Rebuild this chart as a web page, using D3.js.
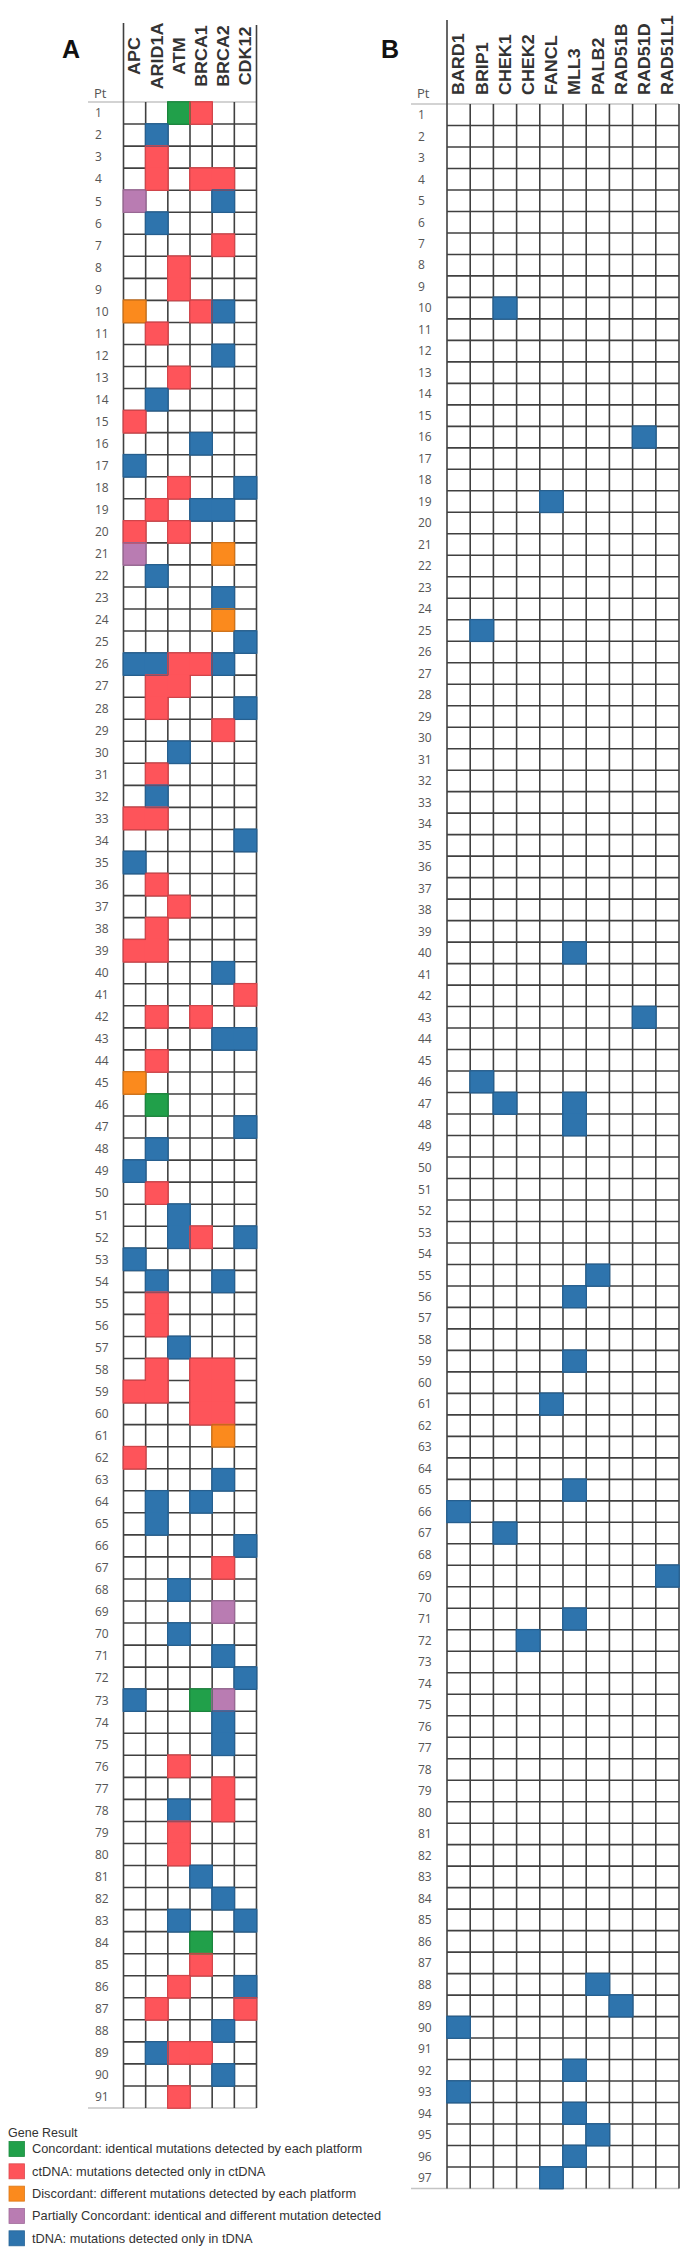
<!DOCTYPE html>
<html>
<head>
<meta charset="utf-8">
<script src="https://cdn.jsdelivr.net/npm/d3@7"></script>
<style>
  html, body { margin: 0; padding: 0; background: #fff; }
  svg { display: block; }
  .hdr { font-family: 'Liberation Sans', Arial, sans-serif; font-weight: bold; }
  .num { font-family: 'Open Sans', sans-serif; }
  .leg { font-family: 'Liberation Sans', Arial, sans-serif; }
</style>
</head>
<body>
<svg id="chart" width="694" height="2259"></svg>
<script>
// ---------------- DATA ----------------
const genesA = ["APC", "ARID1A", "ATM", "BRCA1", "BRCA2", "CDK12"];
const genesB = ["BARD1", "BRIP1", "CHEK1", "CHEK2", "FANCL", "MLL3", "PALB2", "RAD51B", "RAD51D", "RAD51L1"];
const patientsA = d3.range(1, 92);   // Pt 1..91
const patientsB = d3.range(1, 98);   // Pt 1..97

const resultKeys = ["C", "R", "D", "P", "T"];
const resultLabels = [
  "Concordant: identical mutations detected by each platform",
  "ctDNA: mutations detected only in ctDNA",
  "Discordant: different mutations detected by each platform",
  "Partially Concordant: identical and different mutation detected",
  "tDNA: mutations detected only in tDNA"
];
const resultColors = ["#21a04a", "#fe545a", "#fb8a1d", "#b97cb2", "#2e74ad"];

// [patient, gene, result]
const cellsA = [
  [1,"ATM","C"],[1,"BRCA1","R"],
  [2,"ARID1A","T"],
  [3,"ARID1A","R"],
  [4,"ARID1A","R"],[4,"BRCA1","R"],[4,"BRCA2","R"],
  [5,"APC","P"],[5,"BRCA2","T"],
  [6,"ARID1A","T"],
  [7,"BRCA2","R"],
  [8,"ATM","R"],
  [9,"ATM","R"],
  [10,"APC","D"],[10,"BRCA1","R"],[10,"BRCA2","T"],
  [11,"ARID1A","R"],
  [12,"BRCA2","T"],
  [13,"ATM","R"],
  [14,"ARID1A","T"],
  [15,"APC","R"],
  [16,"BRCA1","T"],
  [17,"APC","T"],
  [18,"ATM","R"],[18,"CDK12","T"],
  [19,"ARID1A","R"],[19,"BRCA1","T"],[19,"BRCA2","T"],
  [20,"APC","R"],[20,"ATM","R"],
  [21,"APC","P"],[21,"BRCA2","D"],
  [22,"ARID1A","T"],
  [23,"BRCA2","T"],
  [24,"BRCA2","D"],
  [25,"CDK12","T"],
  [26,"APC","T"],[26,"ARID1A","T"],[26,"ATM","R"],[26,"BRCA1","R"],[26,"BRCA2","T"],
  [27,"ARID1A","R"],[27,"ATM","R"],
  [28,"ARID1A","R"],[28,"CDK12","T"],
  [29,"BRCA2","R"],
  [30,"ATM","T"],
  [31,"ARID1A","R"],
  [32,"ARID1A","T"],
  [33,"APC","R"],[33,"ARID1A","R"],
  [34,"CDK12","T"],
  [35,"APC","T"],
  [36,"ARID1A","R"],
  [37,"ATM","R"],
  [38,"ARID1A","R"],
  [39,"APC","R"],[39,"ARID1A","R"],
  [40,"BRCA2","T"],
  [41,"CDK12","R"],
  [42,"ARID1A","R"],[42,"BRCA1","R"],
  [43,"BRCA2","T"],[43,"CDK12","T"],
  [44,"ARID1A","R"],
  [45,"APC","D"],
  [46,"ARID1A","C"],
  [47,"CDK12","T"],
  [48,"ARID1A","T"],
  [49,"APC","T"],
  [50,"ARID1A","R"],
  [51,"ATM","T"],
  [52,"ATM","T"],[52,"BRCA1","R"],[52,"CDK12","T"],
  [53,"APC","T"],
  [54,"ARID1A","T"],[54,"BRCA2","T"],
  [55,"ARID1A","R"],
  [56,"ARID1A","R"],
  [57,"ATM","T"],
  [58,"ARID1A","R"],[58,"BRCA1","R"],[58,"BRCA2","R"],
  [59,"APC","R"],[59,"ARID1A","R"],[59,"BRCA1","R"],[59,"BRCA2","R"],
  [60,"BRCA1","R"],[60,"BRCA2","R"],
  [61,"BRCA2","D"],
  [62,"APC","R"],
  [63,"BRCA2","T"],
  [64,"ARID1A","T"],[64,"BRCA1","T"],
  [65,"ARID1A","T"],
  [66,"CDK12","T"],
  [67,"BRCA2","R"],
  [68,"ATM","T"],
  [69,"BRCA2","P"],
  [70,"ATM","T"],
  [71,"BRCA2","T"],
  [72,"CDK12","T"],
  [73,"APC","T"],[73,"BRCA1","C"],[73,"BRCA2","P"],
  [74,"BRCA2","T"],
  [75,"BRCA2","T"],
  [76,"ATM","R"],
  [77,"BRCA2","R"],
  [78,"ATM","T"],[78,"BRCA2","R"],
  [79,"ATM","R"],
  [80,"ATM","R"],
  [81,"BRCA1","T"],
  [82,"BRCA2","T"],
  [83,"ATM","T"],[83,"CDK12","T"],
  [84,"BRCA1","C"],
  [85,"BRCA1","R"],
  [86,"ATM","R"],[86,"CDK12","T"],
  [87,"ARID1A","R"],[87,"CDK12","R"],
  [88,"BRCA2","T"],
  [89,"ARID1A","T"],[89,"ATM","R"],[89,"BRCA1","R"],
  [90,"BRCA2","T"],
  [91,"ATM","R"]
];

const cellsB = [
  [10,"CHEK1","T"],
  [16,"RAD51D","T"],
  [19,"FANCL","T"],
  [25,"BRIP1","T"],
  [40,"MLL3","T"],
  [43,"RAD51D","T"],
  [46,"BRIP1","T"],
  [47,"CHEK1","T"],[47,"MLL3","T"],
  [48,"MLL3","T"],
  [55,"PALB2","T"],
  [56,"MLL3","T"],
  [59,"MLL3","T"],
  [61,"FANCL","T"],
  [65,"MLL3","T"],
  [66,"BARD1","T"],
  [67,"CHEK1","T"],
  [69,"RAD51L1","T"],
  [71,"MLL3","T"],
  [72,"CHEK2","T"],
  [88,"PALB2","T"],
  [89,"RAD51B","T"],
  [90,"BARD1","T"],
  [92,"MLL3","T"],
  [93,"BARD1","T"],
  [94,"MLL3","T"],
  [95,"PALB2","T"],
  [96,"MLL3","T"],
  [97,"FANCL","T"]
];

// ---------------- DRAW ----------------
const svg = d3.select("#chart");
const color = d3.scaleOrdinal().domain(resultKeys).range(resultColors);

const LINE = "#404040";
const LIGHT = "#c4c4c4";

function panel(cfg) {
  const g = svg.append("g");
  const x = d3.scaleBand().domain(cfg.genes).range(cfg.xr);
  const y = d3.scaleBand().domain(cfg.patients).range(cfg.yr);
  const [x0, x1] = cfg.xr, [y0, y1] = cfg.yr;

  // panel letter
  g.append("text").attr("class", "hdr").attr("x", cfg.letterX).attr("y", 58)
    .style("font-size", "25px").attr("fill", "#111")
    .text(cfg.letter);

  // "Pt"
  g.append("text").attr("class", "num").attr("x", cfg.labelX - 1).attr("y", 98)
    .style("font-size", "13px").attr("fill", "#555").text("Pt");

  // row labels
  g.selectAll(".rl").data(cfg.patients).join("text")
    .attr("class", "num")
    .attr("x", cfg.labelX)
    .attr("y", d => y(d) + y.bandwidth() / 2)
    .attr("dy", "0.36em")
    .style("font-size", "12px")
    .attr("fill", "#555")
    .text(d => d);

  // column labels (rotated)
  g.selectAll(".cl").data(cfg.genes).join("text")
    .attr("class", "hdr")
    .attr("transform", d => `translate(${x(d) + x.bandwidth() / 2},${cfg.headY}) rotate(-90) scale(1.12,1)`)
    .attr("dy", "0.36em")
    .attr("text-anchor", cfg.headAnchor)
    .style("font-size", "16px").attr("fill", "#333")
    .text(d => d);

  // light top/bottom lines extending under labels
  [y0, y1].forEach(yy => {
    g.append("line").attr("x1", cfg.labelX - 7).attr("x2", x1)
      .attr("y1", yy).attr("y2", yy)
      .attr("stroke", LIGHT).attr("stroke-width", 1.5);
  });

  // inner horizontal lines
  g.selectAll(".hl").data(cfg.patients.slice(1)).join("line")
    .attr("x1", x0).attr("x2", x1)
    .attr("y1", d => y(d)).attr("y2", d => y(d))
    .attr("stroke", LINE).attr("stroke-width", 1.6);

  // vertical lines
  const vx = cfg.genes.map(d => x(d)).concat([x1]);
  g.selectAll(".vl").data(vx).join("line")
    .attr("x1", d => d).attr("x2", d => d)
    .attr("y1", (d, i) => i === 0 ? cfg.borderTopL : (i === vx.length - 1 && cfg.borderTopR ? cfg.borderTopR : y0))
    .attr("y2", y1)
    .attr("stroke", LINE).attr("stroke-width", 1.6);

  // colored cells
  const lookup = new Map(cfg.cells.map(c => [c[0] + "|" + c[1], c[2]]));
  const gi = new Map(cfg.genes.map((d, i) => [d, i]));
  const pad = 0.8;
  g.selectAll(".cell").data(cfg.cells).join("rect")
    .attr("x", d => x(d[1]) - pad)
    .attr("y", d => y(d[0]) - pad)
    .attr("width", x.bandwidth() + 2 * pad)
    .attr("height", y.bandwidth() + 2 * pad)
    .attr("fill", d => color(d[2]));

  // darker edges where the neighbour differs
  const edges = [];
  cfg.cells.forEach(c => {
    const [p, gene, t] = c;
    const i = gi.get(gene);
    const cx0 = x(gene) - pad + 0.6, cx1 = x(gene) + x.bandwidth() + pad - 0.6;
    const cy0 = y(p) - pad + 0.6, cy1 = y(p) + y.bandwidth() + pad - 0.6;
    const nb = (pp, ii) => (ii < 0 || ii >= cfg.genes.length) ? null : lookup.get(pp + "|" + cfg.genes[ii]);
    const col = d3.color(color(t)).darker(0.7).formatHex();
    if (nb(p - 1, i) !== t) edges.push([cx0, cy0, cx1, cy0, col]);
    if (nb(p + 1, i) !== t) edges.push([cx0, cy1, cx1, cy1, col]);
    if (nb(p, i - 1) !== t) edges.push([cx0, cy0, cx0, cy1, col]);
    if (nb(p, i + 1) !== t) edges.push([cx1, cy0, cx1, cy1, col]);
  });
  g.selectAll(".edge").data(edges).join("line")
    .attr("x1", d => d[0]).attr("y1", d => d[1])
    .attr("x2", d => d[2]).attr("y2", d => d[3])
    .attr("stroke", d => d[4]).attr("stroke-width", 1.2)
    .attr("stroke-opacity", 0.8);
}

panel({
  genes: genesA, patients: patientsA, cells: cellsA,
  xr: [123.5, 256.5], yr: [102, 2108],
  letter: "A", letterX: 62, labelX: 95,
  headY: 56, headAnchor: "middle",
  borderTopL: 23, borderTopR: 25
});

panel({
  genes: genesB, patients: patientsB, cells: cellsB,
  xr: [447, 679], yr: [104, 2188.5],
  letter: "B", letterX: 381, labelX: 418,
  headY: 95, headAnchor: "start",
  borderTopL: 20, borderTopR: null
});

// ---------------- LEGEND ----------------
const leg = svg.append("g");
leg.append("text").attr("class", "leg").attr("x", 8).attr("y", 2137)
  .style("font-size", "12.5px")
  .attr("fill", "#333").text("Gene Result");

const ly = d3.scalePoint().domain(resultKeys).range([2149, 2238.3]);
const items = leg.selectAll(".li").data(resultKeys).join("g")
  .attr("transform", d => `translate(0,${ly(d)})`);
items.append("rect").attr("x", 9).attr("y", -7.5).attr("width", 15.5).attr("height", 15)
  .attr("fill", d => color(d))
  .attr("stroke", d => d3.color(color(d)).darker(0.4).formatHex()).attr("stroke-width", 0.8);
items.append("text").attr("class", "leg").attr("x", 32).attr("y", 0).attr("dy", "0.35em")
  .style("font-size", "12.8px")
  .attr("fill", "#333")
  .text((d, i) => resultLabels[i]);
</script>
</body>
</html>
